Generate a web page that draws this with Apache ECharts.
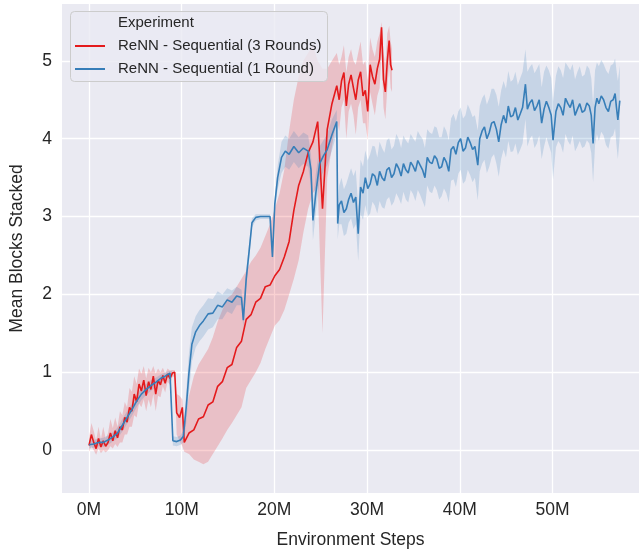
<!DOCTYPE html>
<html><head><meta charset="utf-8">
<script src="https://cdn.jsdelivr.net/npm/echarts@6/dist/echarts.min.js"></script>
<style>html,body{margin:0;padding:0;background:#fff}#c{width:639px;height:556px}</style>
</head><body><div id="c"></div><script>
// Environment steps (millions) and mean blocks stacked
const redX = [
  0,0.26,0.51,0.77,1.03,1.29,1.54,1.8,2.06,2.31,
  2.57,2.83,3.08,3.34,3.6,3.86,4.11,4.37,4.63,4.88,
  5.14,5.4,5.65,5.91,6.17,6.43,6.68,6.94,7.2,7.45,
  7.71,7.97,8.22,8.48,8.74,9.0,9.25,
  9.46,9.77,10.07,10.28,
  10.79,11.31,11.82,12.34,12.85,13.36,13.88,14.39,14.91,15.42,
  15.93,16.45,16.96,17.48,17.99,18.5,19.02,19.53,20.05,20.56,
  21.07,21.59,22.1,22.62,23.13,23.64,24.16,24.67,25.19,25.7,26.21,
  26.73,26.99,27.24,27.5,27.76,28.01,28.27,28.53,28.78,29.04,
  29.3,29.56,29.81,30.07,30.33,30.58,30.84,31.1,31.35,31.56,
  31.77,31.97,32.18,32.38,32.54,32.69];
const redMean = [
  0.06,0.2,0.1,0.02,0.15,0.04,0.12,0.05,0.1,0.22,
  0.12,0.25,0.16,0.3,0.26,0.42,0.36,0.55,0.5,0.72,
  0.62,0.85,0.76,0.9,0.7,0.88,0.78,0.95,0.72,0.9,
  0.84,0.96,0.86,0.98,0.92,0.99,1.0,
  0.48,0.42,0.55,0.1,
  0.22,0.26,0.4,0.43,0.58,0.62,0.82,0.88,1.06,1.1,
  1.32,1.4,1.68,1.74,1.9,1.95,2.1,2.12,2.24,2.32,
  2.48,2.68,3.08,3.4,3.58,3.82,3.96,4.22,3.1,4.12,4.45,
  4.68,4.5,4.74,4.85,4.42,4.7,4.82,4.65,4.5,4.75,
  4.86,4.55,4.62,4.35,4.95,4.8,4.7,4.9,5.02,5.43,
  4.76,4.6,5.0,5.26,4.95,4.88];
const redLo = [
  -0.02,0.05,0.0,-0.06,0.02,-0.04,0.0,-0.03,0.0,0.05,
  0.02,0.08,0.04,0.1,0.1,0.2,0.2,0.3,0.3,0.45,
  0.42,0.6,0.55,0.65,0.5,0.65,0.55,0.72,0.5,0.7,
  0.68,0.82,0.74,0.88,0.84,0.94,0.95,
  0.2,0.12,0.05,-0.02,
  -0.05,-0.12,-0.15,-0.18,-0.15,-0.05,0.05,0.15,0.26,0.35,
  0.45,0.55,0.8,0.9,1.0,1.12,1.3,1.45,1.6,1.67,
  1.8,2.0,2.2,2.44,2.8,3.1,3.3,3.4,1.5,3.5,3.9,
  4.25,4.1,4.4,4.5,4.0,4.35,4.45,4.3,4.05,4.4,
  4.5,4.2,4.2,3.98,4.6,4.45,4.3,4.55,4.65,5.1,
  4.4,4.25,4.65,4.95,4.65,4.6];
const redHi = [
  0.16,0.35,0.25,0.12,0.3,0.14,0.3,0.15,0.22,0.4,
  0.28,0.42,0.3,0.5,0.45,0.62,0.55,0.8,0.75,0.95,
  0.85,1.05,0.98,1.08,0.92,1.06,1.0,1.08,0.98,1.05,
  1.0,1.06,0.98,1.05,1.02,1.03,1.03,
  0.72,0.7,0.65,0.3,
  0.7,0.95,1.1,1.2,1.3,1.45,1.65,1.8,1.95,2.0,
  2.1,2.2,2.3,2.42,2.5,2.6,2.75,2.9,3.1,3.3,
  3.6,4.1,4.5,4.8,5.0,5.1,5.2,5.0,4.9,4.9,5.0,
  5.1,4.95,5.05,5.2,4.85,5.05,5.15,5.0,4.95,5.1,
  5.25,4.95,5.0,4.75,5.3,5.15,5.05,5.25,5.35,5.5,
  5.1,4.95,5.35,5.45,5.25,5.15];

const blueX = [
  0,0.51,1.03,1.54,2.06,2.57,3.08,3.6,4.11,4.63,
  5.14,5.65,6.17,6.68,7.2,7.71,8.22,8.74,8.94,9.05,
  9.46,9.87,10.18,10.49,10.79,11.1,11.51,11.92,12.34,12.85,
  13.36,13.88,14.39,14.91,15.42,15.93,16.45,16.65,16.96,17.27,
  17.58,17.99,18.5,19.02,19.53,19.79,20.05,20.35,20.77,21.18,
  21.59,22.1,22.62,23.13,23.64,23.95,24.16,24.47,24.88,25.29,
  25.7,26.21,26.73,26.83,
  26.99,27.24,27.5,27.76,28.01,28.27,28.53,28.78,29.04,29.3,
  29.56,29.81,30.07,30.33,30.58,30.84,31.1,31.35,31.61,31.87,
  32.13,32.38,32.64,32.9,33.15,33.41,33.67,33.92,34.18,34.44,
  34.7,34.95,35.21,35.47,35.72,35.98,36.24,36.49,36.75,37.01,
  37.27,37.52,37.78,38.04,38.29,38.55,38.81,39.06,39.32,39.58,
  39.84,40.09,40.35,40.61,40.86,41.12,41.38,41.63,41.94,42.15,
  42.41,42.66,42.92,43.18,43.43,43.69,43.95,44.2,44.46,44.72,
  44.98,45.23,45.49,45.75,46.0,46.26,46.52,46.77,47.08,47.29,
  47.55,47.8,48.06,48.32,48.57,48.83,49.09,49.34,49.6,49.86,
  50.06,50.37,50.63,50.89,51.14,51.4,51.66,51.91,52.17,52.43,
  52.69,52.94,53.2,53.46,53.71,53.97,54.18,54.38,54.59,54.79,
  55.0,55.26,55.51,55.77,56.03,56.28,56.54,56.75,56.9,57.05,
  57.26];
const blueMean = [
  0.07,0.08,0.1,0.1,0.13,0.17,0.22,0.32,0.42,0.52,
  0.63,0.72,0.78,0.83,0.87,0.92,0.95,0.99,1.0,0.12,
  0.11,0.13,0.18,0.55,1.0,1.36,1.52,1.6,1.66,1.75,
  1.76,1.86,1.84,1.93,1.9,1.98,1.96,1.67,2.2,2.55,
  2.92,2.99,3.0,3.0,3.0,2.48,3.17,3.5,3.76,3.84,
  3.8,3.9,3.82,3.88,3.84,3.6,2.95,3.3,3.68,3.78,
  3.86,4.05,4.22,2.91,
  3.15,3.2,3.05,3.1,3.22,3.3,3.18,3.25,2.78,3.38,
  3.3,3.5,3.36,3.42,3.55,3.52,3.4,3.58,3.5,3.46,
  3.6,3.63,3.5,3.55,3.68,3.62,3.52,3.68,3.6,3.56,
  3.7,3.65,3.58,3.72,3.66,3.6,3.5,3.76,3.7,3.68,
  3.78,3.74,3.62,3.64,3.76,3.7,3.58,3.86,3.9,3.8,
  3.95,4.0,3.84,3.88,4.02,3.95,3.86,3.9,3.66,4.0,
  4.1,4.15,4.0,4.08,4.2,4.22,4.12,3.96,4.18,4.3,
  4.2,4.42,4.28,4.3,4.4,4.24,4.32,4.4,4.7,4.38,
  4.46,4.5,4.36,4.42,4.5,4.2,4.38,4.48,4.4,4.3,
  3.98,4.35,4.45,4.4,4.3,4.52,4.45,4.4,4.5,4.3,
  4.38,4.45,4.34,4.36,4.46,4.42,4.3,3.94,4.4,4.52,
  4.45,4.55,4.5,4.4,4.35,4.48,4.5,4.58,4.4,4.24,
  4.49];
const blueHalf = [
  0.05,0.05,0.05,0.06,0.06,0.06,0.07,0.08,0.08,0.08,
  0.08,0.08,0.07,0.07,0.06,0.05,0.05,0.03,0.02,0.06,
  0.06,0.06,0.08,0.2,0.25,0.22,0.2,0.2,0.2,0.2,
  0.18,0.18,0.16,0.15,0.15,0.12,0.1,0.1,0.12,0.1,
  0.06,0.04,0.03,0.03,0.03,0.05,0.08,0.15,0.2,0.2,
  0.2,0.2,0.2,0.2,0.2,0.2,0.25,0.25,0.22,0.2,
  0.2,0.2,0.15,0.2,
  0.25,0.3,0.3,0.32,0.3,0.32,0.34,0.35,0.35,0.35,
  0.34,0.35,0.36,0.38,0.36,0.38,0.36,0.38,0.38,0.36,
  0.38,0.38,0.36,0.36,0.38,0.38,0.36,0.36,0.38,0.38,
  0.36,0.36,0.38,0.38,0.38,0.4,0.38,0.36,0.38,0.38,
  0.38,0.4,0.4,0.38,0.4,0.4,0.4,0.4,0.42,0.42,
  0.4,0.4,0.42,0.42,0.42,0.42,0.42,0.4,0.45,0.42,
  0.42,0.42,0.44,0.44,0.44,0.42,0.44,0.45,0.44,0.44,
  0.44,0.45,0.45,0.46,0.46,0.45,0.46,0.46,0.45,0.48,
  0.46,0.46,0.48,0.48,0.46,0.46,0.48,0.46,0.48,0.48,
  0.5,0.46,0.48,0.48,0.48,0.46,0.48,0.48,0.46,0.46,
  0.48,0.48,0.46,0.46,0.48,0.48,0.48,0.5,0.48,0.46,
  0.48,0.46,0.46,0.48,0.48,0.46,0.46,0.45,0.48,0.5,
  0.45];

const xTicks = [0,10,20,30,40,50];
const yTicks = [0,1,2,3,4,5];

const RED = '#e41a1c', BLUE = '#377eb8';
const FONT = "'Liberation Sans', Arial, sans-serif";
const TXT = '#262626';

function bandSeries(xs, lo, hi, color) {
  const data = xs.map((x, i) => [x, lo[i], hi[i]]);
  return {
    type: 'custom', silent: true, z: 1, clip: true,
    data: data,
    encode: { x: 0, y: [1, 2] },
    renderItem: function (params, api) {
      if (params.dataIndex !== 0) return null;
      const pts = [];
      for (let i = 0; i < data.length; i++) pts.push(api.coord([data[i][0], data[i][2]]));
      for (let i = data.length - 1; i >= 0; i--) pts.push(api.coord([data[i][0], data[i][1]]));
      return { type: 'polygon', shape: { points: pts }, style: { fill: color } };
    }
  };
}

const blueLo = blueMean.map((m, i) => m - blueHalf[i]);
const blueHi = blueMean.map((m, i) => m + blueHalf[i]);

const chart = echarts.init(document.getElementById('c'), null, { renderer: 'canvas' });
chart.setOption({
  animation: false,
  backgroundColor: '#ffffff',
  textStyle: { fontFamily: FONT },
  grid: { left: 62, right: 0, top: 4, bottom: 63, show: true, backgroundColor: '#eaeaf2', borderWidth: 0 },
  xAxis: {
    type: 'value', min: -2.91, max: 59.33, splitNumber: 6,
    axisLine: { show: false }, axisTick: { show: false },
    splitLine: { show: true, showMinLine: false, showMaxLine: false, lineStyle: { color: '#ffffff', width: 1.3 } },
    axisLabel: {
      margin: 8, fontSize: 17.5, color: TXT, fontFamily: FONT,
      showMinLabel: false, showMaxLabel: false,
      formatter: v => (xTicks.indexOf(v) >= 0 ? v + 'M' : '')
    },
    name: 'Environment Steps', nameLocation: 'middle', nameGap: 38,
    nameTextStyle: { fontSize: 17.5, color: TXT, fontFamily: FONT }
  },
  yAxis: {
    type: 'value', min: -0.55, max: 5.73, splitNumber: 6,
    axisLine: { show: false }, axisTick: { show: false },
    splitLine: { show: true, showMinLine: false, showMaxLine: false, lineStyle: { color: '#ffffff', width: 1.3 } },
    axisLabel: {
      margin: 10, fontSize: 17.5, color: TXT, fontFamily: FONT,
      showMinLabel: false, showMaxLabel: false,
      formatter: v => (yTicks.indexOf(v) >= 0 ? String(v) : '')
    },
    name: 'Mean Blocks Stacked', nameLocation: 'middle', nameGap: 36,
    nameTextStyle: { fontSize: 17.5, color: TXT, fontFamily: FONT }
  },
  legend: {
    show: true, selectedMode: false, orient: 'vertical', left: 70, top: 32, z: 20,
    itemWidth: 30, itemHeight: 2, itemGap: 5, icon: 'rect',
    textStyle: { fontSize: 15, color: TXT, fontFamily: FONT, lineHeight: 18, padding: [0, 0, 0, 8] },
    data: ['ReNN - Sequential (3 Rounds)', 'ReNN - Sequential (1 Round)']
  },
  graphic: [
    { type: 'rect', z: 10, shape: { x: 70.5, y: 11.5, width: 257, height: 70, r: 4 },
      style: { fill: 'rgba(234,234,242,0.8)', stroke: '#cccccc', lineWidth: 1 } },
    { type: 'text', z: 11, x: 118, y: 23,
      style: { text: 'Experiment', fontSize: 15, fontFamily: FONT, fill: TXT, verticalAlign: 'middle', textAlign: 'left' } }
  ],
  series: [
    bandSeries(redX, redLo, redHi, 'rgba(228,26,28,0.2)'),
    bandSeries(blueX, blueLo, blueHi, 'rgba(55,126,184,0.2)'),
    { name: 'ReNN - Sequential (3 Rounds)', type: 'line', z: 3, showSymbol: false, symbol: 'none',
      data: redX.map((x, i) => [x, redMean[i]]), color: RED,
      lineStyle: { color: RED, width: 1.6 } },
    { name: 'ReNN - Sequential (1 Round)', type: 'line', z: 4, showSymbol: false, symbol: 'none',
      data: blueX.map((x, i) => [x, blueMean[i]]), color: BLUE,
      lineStyle: { color: BLUE, width: 1.6 } }
  ]
});
</script></body></html>
